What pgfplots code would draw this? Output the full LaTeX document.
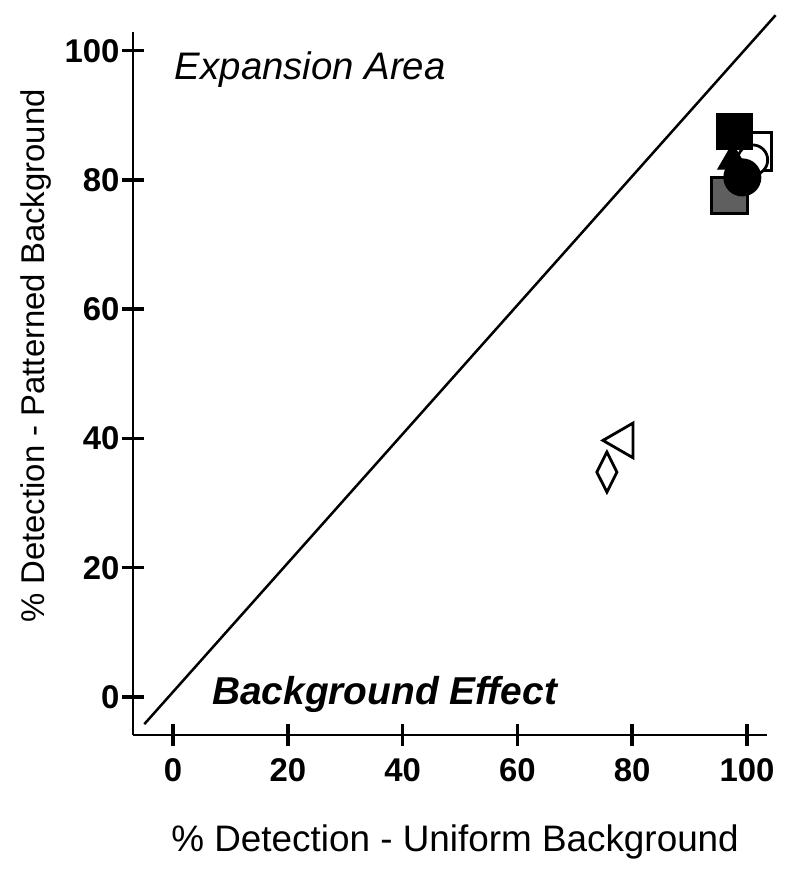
\documentclass[border=0pt]{standalone}
\usepackage{fontspec}
\setmainfont{Liberation Sans}
\usepackage{pgfplots}
\pgfplotsset{compat=1.18}
\definecolor{markgray}{HTML}{5F5F5F}
\begin{document}
\begin{tikzpicture}[x=1bp,y=1bp]
\path[use as bounding box] (0,0) rectangle (800,880);
\begin{axis}[
  at={(133bp,145bp)}, anchor=south west,
  scale only axis, width=634bp, height=703bp,
  xmin=-6.97, xmax=103.5, ymin=-5.88, ymax=102.9,
  axis lines=left,
  axis line style={-, line width=2bp},
  xtick={0,20,...,100}, ytick={0,20,...,100},
  tick align=center, major tick length=22bp,
  every tick/.style={black, line width=3.5bp},
  tick label style={font=\fontsize{33}{33}\selectfont\bfseries},
  xticklabel style={yshift=-9bp},
  yticklabel style={xshift=1bp},
  /pgf/number format/assume math mode=true,
  clip=false,
  xlabel={\% Detection - Uniform Background},
  ylabel={\% Detection - Patterned Background},
  xlabel style={font=\fontsize{37}{37}\selectfont, at={(axis description cs:0.508,-0.1664)}, anchor=base},
  ylabel style={font=\fontsize{33}{33}\selectfont, at={(axis description cs:-0.140,0.539)}, anchor=base},
]
\addplot[black, line width=2.5bp] coordinates {(-5,-4.2) (105,105.5)};
% open square
\addplot[only marks, mark=square*, mark size=19bp, mark options={fill=white, draw=black, line width=2.8bp}] coordinates {(101,84.4)};
% open circle
\addplot[only marks, mark=*, mark size=15bp, mark options={fill=white, draw=black, line width=2.8bp}] coordinates {(101,83.1)};
% gray square
\addplot[only marks, mark=square*, mark size=18bp, mark options={fill=markgray, draw=black, line width=2.8bp}] coordinates {(96.9,77.6)};
% black square
\addplot[only marks, mark=square*, mark size=18bp, mark options={fill=black, draw=black, line width=1bp}] coordinates {(97.9,87.5)};
% black triangle
\addplot[only marks, mark=triangle*, mark size=17bp, mark options={fill=black, draw=black, line width=1bp}] coordinates {(97.5,83)};
% black circle
\addplot[only marks, mark=*, mark size=18.5bp, mark options={fill=black, draw=black, line width=1bp}] coordinates {(99.2,80.4)};
% open diamond
\addplot[only marks, mark=diamond, mark size=20bp, mark options={xscale=0.67, draw=black, line width=2.8bp}] coordinates {(75.6,34.8)};
% open left triangle
\addplot[only marks, mark=triangle, mark size=20bp, mark options={rotate=90, draw=black, line width=2.8bp}] coordinates {(78.4,39.7)};
\node[anchor=base west, inner sep=0pt, font=\fontsize{38.5}{38.5}\selectfont\itshape] at (axis cs:0.3,95.5) {Expansion Area};
\node[anchor=base west, inner sep=0pt, font=\fontsize{39}{39}\selectfont\bfseries\itshape] at (axis cs:6.8,-1.1) {Background Effect};
\end{axis}
\end{tikzpicture}
\end{document}
